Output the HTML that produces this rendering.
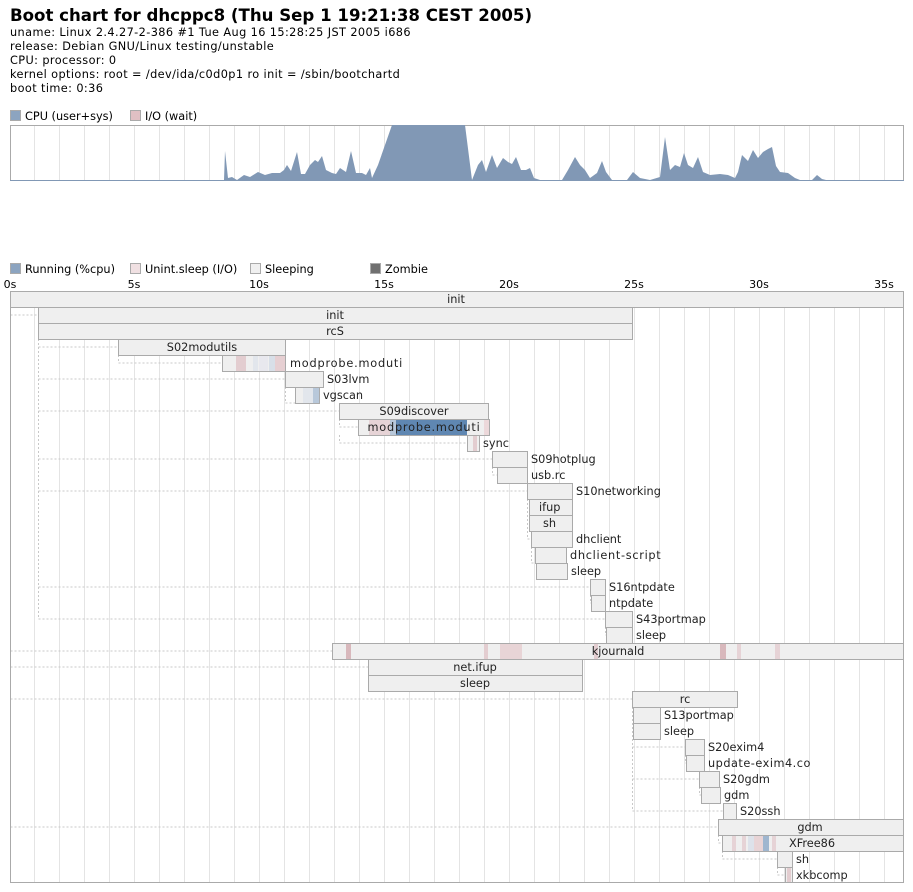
<!DOCTYPE html>
<html><head><meta charset="utf-8"><style>
body{margin:0;background:#fff;}
svg{display:block;font-family:"DejaVu Sans","Liberation Sans",sans-serif;}
</style></head><body>
<svg width="913" height="892" viewBox="0 0 913 892" xmlns="http://www.w3.org/2000/svg">
<text x="10" y="21" font-size="16.6" font-weight="bold" fill="#000">Boot chart for dhcppc8 (Thu Sep  1 19:21:38 CEST 2005)</text>
<g font-size="11.3" fill="#000" letter-spacing="0.4">
<text x="10" y="36">uname: Linux 2.4.27-2-386 #1 Tue Aug 16 15:28:25 JST 2005 i686</text>
<text x="10" y="50">release: Debian GNU/Linux testing/unstable</text>
<text x="10" y="64">CPU: processor: 0</text>
<text x="10" y="78">kernel options: root = /dev/ida/c0d0p1 ro init = /sbin/bootchartd</text>
<text x="10" y="92">boot time: 0:36</text>
</g>
<rect x="10.5" y="110.5" width="10" height="10" fill="#8ca4c0" stroke="#aaa"/>
<text x="25" y="120" font-size="11.3">CPU (user+sys)</text>
<rect x="130.5" y="110.5" width="10" height="10" fill="#e0c0c4" stroke="#aaa"/>
<text x="145" y="120" font-size="11.3">I/O (wait)</text>
<rect x="10.5" y="125.5" width="893" height="55" fill="none" stroke="#aaa"/>
<g stroke="#e4e4e4">
<path d="M34.5 126V180M59.5 126V180M84.5 126V180M109.5 126V180M134.5 126V180M159.5 126V180M184.5 126V180M209.5 126V180M234.5 126V180M259.5 126V180M284.5 126V180M309.5 126V180M334.5 126V180M359.5 126V180M384.5 126V180M409.5 126V180M434.5 126V180M459.5 126V180M484.5 126V180M509.5 126V180M534.5 126V180M559.5 126V180M584.5 126V180M609.5 126V180M634.5 126V180M659.5 126V180M684.5 126V180M709.5 126V180M734.5 126V180M759.5 126V180M784.5 126V180M809.5 126V180M834.5 126V180M859.5 126V180M884.5 126V180"/>
</g>
<polygon fill="#8198b5" points="224,180 225,151 228,178 232,177 237,180 244,175 250,177 258,172 265,175 272,173 280,173 284,170 287,165 291,171 297,152 301,174 305,174 310,165 315,160 318,162 322,156 326,170 332,173 336,174 340,168 346,172 351,151 356,173 362,173 366,175 370,168 372,178 378,165 392,125 465,125 472,180 478,165 482,160 486,172 492,155 497,168 503,158 508,162 512,164 516,157 521,170 526,170 530,168 534,178 540,180 562,180 568,170 575,157 580,165 585,170 590,178 597,173 602,161 606,172 612,180 627,180 633,172 640,178 650,180 660,177 665,137 670,170 675,165 680,167 684,153 688,165 693,168 698,157 703,172 710,175 720,174 728,175 735,178 738,172 742,155 748,161 753,150 758,158 763,152 768,149 772,147 776,166 780,172 788,173 795,178 800,180 812,180 817,175 822,179 826,180"/>
<line x1="10" y1="180.5" x2="904" y2="180.5" stroke="#8198b5"/>

<rect x="10.5" y="263.5" width="10" height="10" fill="#8ca4c0" stroke="#aaa"/>
<text x="25" y="273" font-size="11.3">Running (%cpu)</text>
<rect x="130.5" y="263.5" width="10" height="10" fill="#f0e0e2" stroke="#aaa"/>
<text x="145" y="273" font-size="11.3">Unint.sleep (I/O)</text>
<rect x="250.5" y="263.5" width="10" height="10" fill="#f0f0f0" stroke="#aaa"/>
<text x="265" y="273" font-size="11.3">Sleeping</text>
<rect x="370.5" y="263.5" width="10" height="10" fill="#707070" stroke="#aaa"/>
<text x="385" y="273" font-size="11.3">Zombie</text>
<g font-size="11" text-anchor="middle">
<text x="10" y="288">0s</text><text x="134" y="288">5s</text><text x="259" y="288">10s</text><text x="384" y="288">15s</text><text x="509" y="288">20s</text><text x="634" y="288">25s</text><text x="759" y="288">30s</text><text x="884" y="288">35s</text>
</g>
<g stroke="#e4e4e4">
<path d="M34.5 292V882M59.5 292V882M84.5 292V882M109.5 292V882M134.5 292V882M159.5 292V882M184.5 292V882M209.5 292V882M234.5 292V882M259.5 292V882M284.5 292V882M309.5 292V882M334.5 292V882M359.5 292V882M384.5 292V882M409.5 292V882M434.5 292V882M459.5 292V882M484.5 292V882M509.5 292V882M534.5 292V882M559.5 292V882M584.5 292V882M609.5 292V882M634.5 292V882M659.5 292V882M684.5 292V882M709.5 292V882M734.5 292V882M759.5 292V882M784.5 292V882M809.5 292V882M834.5 292V882M859.5 292V882M884.5 292V882"/>
</g>
<g stroke="#c8c8c8" stroke-dasharray="2,2" fill="none">
<path d="M10.5 307V315H38M38.5 331V619M38.5 347H118M118.5 355V363H222M38.5 379H285M285.5 387V403H295M38.5 411H339M339.5 419V427H358M339.5 435V443H467M38.5 459H492M492.5 467V475H497M38.5 491H527M527.5 499V539H531M531.5 547V563H535M38.5 587H590M590.5 595V603H591M38.5 619H605M605.5 627V635H606M10.5 651H332M10.5 667H368M10.5 699H632M632.5 707V811M632.5 747H685M685.5 755V763H686M632.5 779H699M699.5 787V795H701M632.5 811H723M10.5 827H718M718.5 835V843H722M722.5 851V859H777M777.5 867V875H785"/>
</g>
<g stroke="#aaa" fill="#efefef">
<rect x="10.5" y="291.5" width="893" height="16"/>
<rect x="38.5" y="307.5" width="594" height="16"/>
<rect x="38.5" y="323.5" width="594" height="16"/>
<rect x="118.5" y="339.5" width="167" height="16"/>
<rect x="222.5" y="355.5" width="63" height="16"/>
<rect x="285.5" y="371.5" width="38" height="16"/>
<rect x="295.5" y="387.5" width="24" height="16"/>
<rect x="339.5" y="403.5" width="149" height="16"/>
<rect x="358.5" y="419.5" width="131" height="16"/>
<rect x="467.5" y="435.5" width="12" height="16"/>
<rect x="492.5" y="451.5" width="35" height="16"/>
<rect x="497.5" y="467.5" width="30" height="16"/>
<rect x="527.5" y="483.5" width="45" height="16"/>
<rect x="529.5" y="499.5" width="43" height="16"/>
<rect x="529.5" y="515.5" width="43" height="16"/>
<rect x="531.5" y="531.5" width="41" height="16"/>
<rect x="535.5" y="547.5" width="31" height="16"/>
<rect x="536.5" y="563.5" width="31" height="16"/>
<rect x="590.5" y="579.5" width="15" height="16"/>
<rect x="591.5" y="595.5" width="14" height="16"/>
<rect x="605.5" y="611.5" width="27" height="16"/>
<rect x="606.5" y="627.5" width="26" height="16"/>
<rect x="332.5" y="643.5" width="571" height="16"/>
<rect x="368.5" y="659.5" width="214" height="16"/>
<rect x="368.5" y="675.5" width="214" height="16"/>
<rect x="632.5" y="691.5" width="105" height="16"/>
<rect x="633.5" y="707.5" width="27" height="16"/>
<rect x="633.5" y="723.5" width="27" height="16"/>
<rect x="685.5" y="739.5" width="19" height="16"/>
<rect x="686.5" y="755.5" width="18" height="16"/>
<rect x="699.5" y="771.5" width="20" height="16"/>
<rect x="701.5" y="787.5" width="19" height="16"/>
<rect x="723.5" y="803.5" width="13" height="16"/>
<rect x="718.5" y="819.5" width="185" height="16"/>
<rect x="722.5" y="835.5" width="181" height="16"/>
<rect x="777.5" y="851.5" width="15" height="16"/>
<rect x="785.5" y="867.5" width="7" height="15"/>
</g>
<g>
<rect x="236" y="356" width="10" height="15" fill="#e3cdd0"/>
<rect x="253" y="356" width="5" height="15" fill="#e2e6ec"/>
<rect x="259" y="356" width="9" height="15" fill="#e8e8ee"/>
<rect x="269" y="356" width="6" height="15" fill="#d8dfe8"/>
<rect x="275" y="356" width="10" height="15" fill="#e6cfd2"/>
<rect x="303" y="388" width="10" height="15" fill="#e2e6ec"/>
<rect x="313" y="388" width="6" height="15" fill="#b8c8da"/>
<rect x="369" y="420" width="21" height="15" fill="#e6d3d6"/>
<rect x="390" y="420" width="6" height="15" fill="#b8c8da"/>
<rect x="396" y="420" width="71" height="15" fill="#5f87b2"/>
<rect x="484" y="420" width="5" height="15" fill="#ecd8da"/>
<rect x="473" y="436" width="4" height="15" fill="#e3cdd0"/>
<rect x="346" y="644" width="5" height="15" fill="#d8b8bc"/>
<rect x="484" y="644" width="4" height="15" fill="#e3cdd0"/>
<rect x="500" y="644" width="22" height="15" fill="#e8d4d6"/>
<rect x="594" y="644" width="4" height="15" fill="#e3cdd0"/>
<rect x="720" y="644" width="6" height="15" fill="#d8b8bc"/>
<rect x="737" y="644" width="4" height="15" fill="#e6d3d6"/>
<rect x="775" y="644" width="5" height="15" fill="#e6d3d6"/>
<rect x="732" y="836" width="4" height="15" fill="#e6d3d6"/>
<rect x="742" y="836" width="4" height="15" fill="#e6d3d6"/>
<rect x="748" y="836" width="6" height="15" fill="#dde2ea"/>
<rect x="754" y="836" width="9" height="15" fill="#e8d4d6"/>
<rect x="763" y="836" width="6" height="15" fill="#9fb6cf"/>
<rect x="772" y="836" width="4" height="15" fill="#e6d3d6"/>
<rect x="787" y="868" width="4" height="14" fill="#e3cdd0"/>
</g>
<rect x="10.5" y="291.5" width="893" height="591" fill="none" stroke="#aaa"/>
<g font-size="11.3" fill="#222">
<g text-anchor="middle">
<text x="456" y="303">init</text>
<text x="335" y="319">init</text>
<text x="335" y="335">rcS</text>
<text x="202" y="351">S02modutils</text>
<text x="414" y="415">S09discover</text>
<text x="424" y="431" letter-spacing="0.8">modprobe.moduti</text>
<text x="618" y="655">kjournald</text>
<text x="475" y="671">net.ifup</text>
<text x="475" y="687">sleep</text>
<text x="685" y="703">rc</text>
<text x="810" y="831">gdm</text>
<text x="812" y="847">XFree86</text>
</g>
<text x="290" y="367" letter-spacing="0.8">modprobe.moduti</text>
<text x="327" y="383">S03lvm</text>
<text x="323" y="399">vgscan</text>
<text x="483" y="447">sync</text>
<text x="531" y="463">S09hotplug</text>
<text x="531" y="479">usb.rc</text>
<text x="576" y="495">S10networking</text>
<text x="539" y="511">ifup</text>
<text x="543" y="527">sh</text>
<text x="576" y="543">dhclient</text>
<text x="570" y="559" letter-spacing="0.7">dhclient-script</text>
<text x="571" y="575">sleep</text>
<text x="609" y="591">S16ntpdate</text>
<text x="609" y="607">ntpdate</text>
<text x="636" y="623">S43portmap</text>
<text x="636" y="639">sleep</text>
<text x="664" y="719">S13portmap</text>
<text x="664" y="735">sleep</text>
<text x="708" y="751">S20exim4</text>
<text x="708" y="767" letter-spacing="0.5">update-exim4.co</text>
<text x="723" y="783">S20gdm</text>
<text x="724" y="799">gdm</text>
<text x="740" y="815">S20ssh</text>
<text x="796" y="863">sh</text>
<text x="796" y="879">xkbcomp</text>
</g>
</svg>
</body></html>
